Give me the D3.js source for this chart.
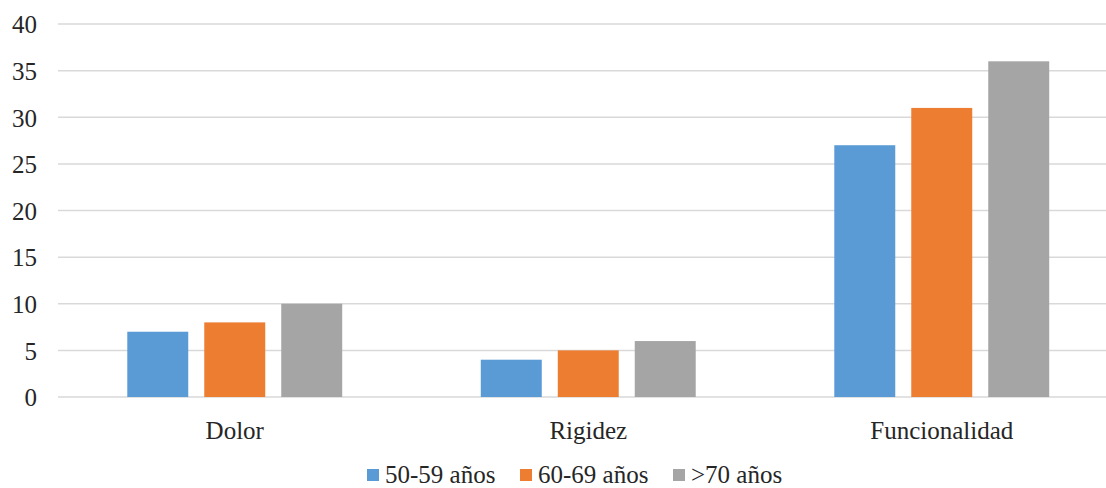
<!DOCTYPE html>
<html>
<head>
<meta charset="utf-8">
<script src="https://cdn.jsdelivr.net/npm/d3@7"></script>
<style>
  html, body { margin: 0; padding: 0; background: #fff; }
  svg { display: block; }
  svg text { font-family: "Liberation Serif", Tinos, "Times New Roman", "DejaVu Serif", serif !important; fill: #262626; }
</style>
</head>
<body>
<svg id="chart" width="1106" height="488"></svg>
<script>
// Categories, series and values
const categories = ["Dolor", "Rigidez", "Funcionalidad"];
const seriesNames = ["50-59 años", "60-69 años", ">70 años"];
const values5059 = [7, 4, 27];
const values6069 = [8, 5, 31];
const values70 = [10, 6, 36];
const yTicks = [0, 5, 10, 15, 20, 25, 30, 35, 40];
const colors = ["#5B9BD5", "#ED7D31", "#A5A5A5"];

const seriesValues = [values5059, values6069, values70];

const svg = d3.select("#chart");
const W = 1106, H = 488;
const plot = { left: 58, right: 1118.5, top: 24, bottom: 397 };

const y = d3.scaleLinear().domain([0, 40]).range([plot.bottom, plot.top]);

const x0 = d3.scaleBand()
  .domain(categories)
  .range([plot.left, plot.right])
  .paddingInner(0.392)
  .paddingOuter(0.196);

const x1 = d3.scaleBand()
  .domain(seriesNames)
  .range([0, x0.bandwidth()])
  .paddingInner(0.208)
  .paddingOuter(0);

// Gridlines
svg.append("g")
  .selectAll("line")
  .data(yTicks)
  .join("line")
  .attr("x1", plot.left)
  .attr("x2", W)
  .attr("y1", d => y(d))
  .attr("y2", d => y(d))
  .attr("stroke", "#D9D9D9")
  .attr("stroke-width", 1.5);

// Y axis labels
const yAxis = d3.axisLeft(y).tickValues(yTicks).tickSize(0).tickPadding(0);
const yg = svg.append("g")
  .attr("transform", `translate(37,0)`)
  .call(yAxis)
  .attr("font-family", null);
yg.select(".domain").remove();
yg.selectAll("text")
  .attr("font-size", 25)
  .attr("fill", "#262626")
  .attr("dy", "0.35em");

// Bars
const groups = svg.append("g")
  .selectAll("g")
  .data(categories)
  .join("g")
  .attr("transform", d => `translate(${x0(d)},0)`);

groups.selectAll("rect")
  .data((c, i) => seriesNames.map((s, j) => ({ s, j, v: seriesValues[j][i] })))
  .join("rect")
  .attr("x", d => x1(d.s))
  .attr("width", x1.bandwidth())
  .attr("y", d => y(d.v))
  .attr("height", d => y(0) - y(d.v))
  .attr("fill", d => colors[d.j]);

// Category labels
const xAxis = d3.axisBottom(x0).tickSize(0).tickPadding(0);
const xg = svg.append("g")
  .attr("transform", `translate(0,${plot.bottom})`)
  .call(xAxis)
  .attr("font-family", null);
xg.select(".domain").remove();
xg.selectAll("text")
  .attr("font-size", 25)
  .attr("fill", "#262626")
  .attr("dy", null)
  .attr("y", 42);

// Legend
const legendX = [367, 520, 673];
const legend = svg.append("g")
  .selectAll("g")
  .data(seriesNames)
  .join("g")
  .attr("transform", (d, i) => `translate(${legendX[i]},469)`);

legend.append("rect")
  .attr("width", 12)
  .attr("height", 12)
  .attr("fill", (d, i) => colors[i]);

legend.append("text")
  .attr("x", 18)
  .attr("y", 14)
  .attr("font-size", 25)
  .text(d => d);
</script>
</body>
</html>
